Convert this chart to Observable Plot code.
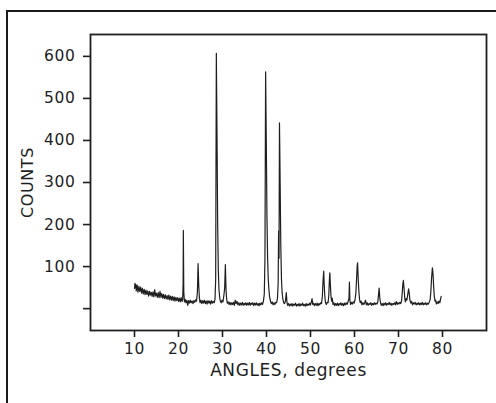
<!DOCTYPE html>
<html>
<head>
<meta charset="utf-8">
<script src="https://cdn.jsdelivr.net/npm/d3@7"></script>
<script src="https://cdn.jsdelivr.net/npm/@observablehq/plot@0.6"></script>
<style>
  html, body { margin: 0; padding: 0; background: #fff; }
  #wrap { position: relative; width: 496px; height: 403px; overflow: hidden; }
  #outer { position: absolute; left: 6px; top: 10px; width: 520px; height: 420px;
           border-left: 2px solid #1a1a1a; border-top: 2px solid #1a1a1a; pointer-events: none; }
  #wrap svg text { letter-spacing: 0.6px; }
</style>
</head>
<body>
<div id="wrap"><div id="outer"></div></div>
<script>
// Diffraction scan: [angle (degrees), counts]
const scanLow = [[10.0,48],[10.1,60],[10.2,50],[10.3,57],[10.4,42],[10.6,56],[10.8,39],[11.0,53],[11.2,41],[11.4,51],[11.6,37],[11.8,48],[12.0,35],[12.2,46],[12.4,33],[12.6,44],[12.8,34],[13.0,42],[13.2,30],[13.4,41],[13.6,32],[13.8,39],[14.0,29],[14.2,40],[14.4,28],[14.6,45],[14.8,30],[15.0,37],[15.2,27],[15.4,38],[15.6,26],[15.8,41],[16.0,27],[16.2,36],[16.4,25],[16.6,34],[16.8,24],[17.0,33],[17.2,23],[17.4,31],[17.6,22],[17.8,32],[18.0,21],[18.2,30],[18.4,20],[18.6,29],[18.8,19],[19.0,28],[19.2,18],[19.4,27],[19.6,19],[19.8,26],[20.0,17],[20.2,25],[20.4,16],[20.6,26],[20.8,17]];
const scanMid1 = [[20.95,22],[21.05,60],[21.1,186],[21.2,40],[21.35,16],[21.5,22],[21.7,14],[21.9,20],[22.1,8],[22.3,19],[22.5,13],[22.7,20],[22.9,14],[23.1,18],[23.3,12],[23.5,19],[23.7,15],[23.9,21],[24.1,18],[24.3,40],[24.45,107],[24.6,55],[24.75,25],[24.9,14],[25.1,20],[25.3,12],[25.5,19],[25.7,13],[25.9,20],[26.1,12],[26.3,18],[26.5,11],[26.7,19],[26.9,13],[27.1,18],[27.3,11],[27.5,19],[27.7,13],[27.9,17],[28.1,14],[28.3,22],[28.45,70],[28.6,607],[28.75,420],[28.9,200],[29.05,90],[29.2,45],[29.35,28],[29.5,18],[29.7,14],[29.9,20],[30.1,16],[30.3,30],[30.5,50],[30.65,105],[30.8,45],[30.95,22],[31.1,13]];
const scanMid2 = [[31.3,16],[31.5,10],[31.7,15],[31.9,9],[32.1,14],[32.3,10],[32.5,15],[32.7,8],[32.9,20],[33.1,12],[33.3,17],[33.5,9],[33.7,14],[33.9,8],[34.1,13],[34.3,9],[34.5,15],[34.7,8],[34.9,13],[35.1,9],[35.3,14],[35.5,8],[35.7,13],[35.9,9],[36.1,15],[36.3,8],[36.5,13],[36.7,10],[36.9,14],[37.1,7],[37.3,13],[37.5,9],[37.7,14],[37.9,8],[38.1,12],[38.3,7],[38.5,13],[38.7,9],[38.9,14],[39.1,10],[39.3,18],[39.5,35],[39.65,120],[39.8,563],[39.95,400],[40.1,220],[40.25,120],[40.4,70],[40.55,45],[40.7,28],[40.9,18],[41.1,12],[41.3,16],[41.5,9],[41.7,14],[41.9,10],[42.1,15],[42.3,14],[42.5,25],[42.65,60],[42.75,185],[42.85,120],[42.95,442],[43.1,300],[43.25,150],[43.4,70],[43.55,38],[43.7,24],[43.9,14],[44.1,12],[44.3,18],[44.5,38],[44.65,15],[44.8,8]];
const scanHigh = [[45.0,12],[45.2,6],[45.4,11],[45.6,7],[45.8,12],[46.0,6],[46.2,11],[46.4,8],[46.6,13],[46.8,6],[47.0,10],[47.2,7],[47.4,12],[47.6,6],[47.8,11],[48.0,8],[48.2,13],[48.4,7],[48.6,10],[48.8,6],[49.0,12],[49.2,7],[49.4,11],[49.6,8],[49.8,13],[50.0,9],[50.2,16],[50.35,24],[50.5,10],[50.7,13],[50.9,7],[51.1,12],[51.3,8],[51.5,13],[51.7,7],[51.9,12],[52.1,9],[52.3,14],[52.5,12],[52.7,30],[52.85,65],[53.0,89],[53.1,60],[53.25,30],[53.4,15],[53.6,10],[53.8,15],[54.0,14],[54.15,30],[54.3,70],[54.4,85],[54.5,60],[54.65,30],[54.8,18],[54.95,25],[55.1,10],[55.3,14],[55.5,7],[55.7,12],[55.9,8],[56.1,13],[56.3,7],[56.5,12],[56.7,9],[56.9,14],[57.1,8],[57.3,12],[57.5,7],[57.7,13],[57.9,9],[58.1,14],[58.3,10],[58.5,15],[58.75,25],[58.85,63],[58.95,20],[59.1,10],[59.3,15],[59.5,11],[59.7,16],[59.9,13],[60.1,20],[60.3,35],[60.45,65],[60.6,100],[60.7,109],[60.85,70],[61.0,40],[61.15,22],[61.3,14],[61.5,18],[61.7,9],[61.9,14],[62.1,10],[62.3,13],[62.5,20],[62.7,9],[62.9,14],[63.1,8],[63.3,12],[63.5,10],[63.7,14],[63.9,8],[64.1,12],[64.3,9],[64.5,14],[64.7,10],[64.9,13],[65.1,11],[65.3,16],[65.45,32],[65.6,49],[65.75,26],[65.9,14],[66.1,8],[66.3,12],[66.5,7],[66.7,13],[66.9,9],[67.1,14],[67.3,8],[67.5,12],[67.7,10],[67.9,15],[68.1,9],[68.3,13],[68.5,8],[68.7,12],[68.9,10],[69.1,14],[69.3,9],[69.5,17],[69.7,10],[69.9,14],[70.1,11],[70.3,15],[70.5,12],[70.7,18],[70.85,38],[71.0,60],[71.1,67],[71.25,50],[71.4,28],[71.55,16],[71.75,24],[71.9,20],[72.05,30],[72.3,47],[72.45,35],[72.6,20],[72.8,13],[73.0,17],[73.2,9],[73.4,14],[73.6,11],[73.8,15],[74.0,9],[74.2,13],[74.4,10],[74.6,14],[74.8,9],[75.0,13],[75.2,10],[75.4,15],[75.6,9],[75.8,13],[76.0,10],[76.2,14],[76.4,9],[76.6,13],[76.8,11],[77.0,16],[77.2,22],[77.35,40],[77.5,70],[77.7,97],[77.85,82],[78.0,50],[78.15,28],[78.3,18],[78.45,20],[78.6,11],[78.8,16],[79.0,12],[79.2,18],[79.4,14],[79.55,22],[79.7,29]];

const xTicks = [10, 20, 30, 40, 50, 60, 70, 80];
const yTicks = [0, 100, 200, 300, 400, 500, 600];
const xTitle = "ANGLES, degrees";
const yTitle = "COUNTS";

const scan = [...scanLow, ...scanMid1, ...scanMid2, ...scanHigh].map(([angle, counts]) => ({angle, counts}));

const ink = "#1e1e1e";
const chart = Plot.plot({
  width: 496,
  height: 403,
  marginLeft: 90,
  marginRight: 10,
  marginTop: 34,
  marginBottom: 73,
  style: {fontFamily: "'DejaVu Sans', sans-serif", fontSize: "15px", color: ink, background: "transparent"},
  x: {domain: [0, 90]},
  y: {domain: [-52, 652]},
  marks: [
    Plot.frame({stroke: ink, strokeWidth: 1.8}),
    Plot.axisX({ticks: xTicks, tickSize: 7, tickPadding: 5, strokeWidth: 1.6, label: null, fontSize: 15.5}),
    Plot.axisY({ticks: yTicks, tickSize: 7, tickPadding: 8, strokeWidth: 1.6, label: null, fontSize: 15.5,
                tickFormat: d => d === 0 ? "" : String(d)}),
    Plot.line(scan, {x: "angle", y: "counts", stroke: ink, strokeWidth: 1.2}),
    Plot.text([xTitle], {frameAnchor: "bottom", dy: 40, text: d => d, fontSize: 17,
                         textAnchor: "middle", lineAnchor: "middle"}),
    Plot.text([yTitle], {frameAnchor: "left", dx: -63, rotate: -90, text: d => d, fontSize: 16,
                         textAnchor: "middle", lineAnchor: "middle"})
  ]
});
const wrap = document.getElementById("wrap");
chart.style.position = "absolute";
chart.style.left = "0";
chart.style.top = "0";
wrap.insertBefore(chart, wrap.firstChild);
</script>
</body>
</html>
